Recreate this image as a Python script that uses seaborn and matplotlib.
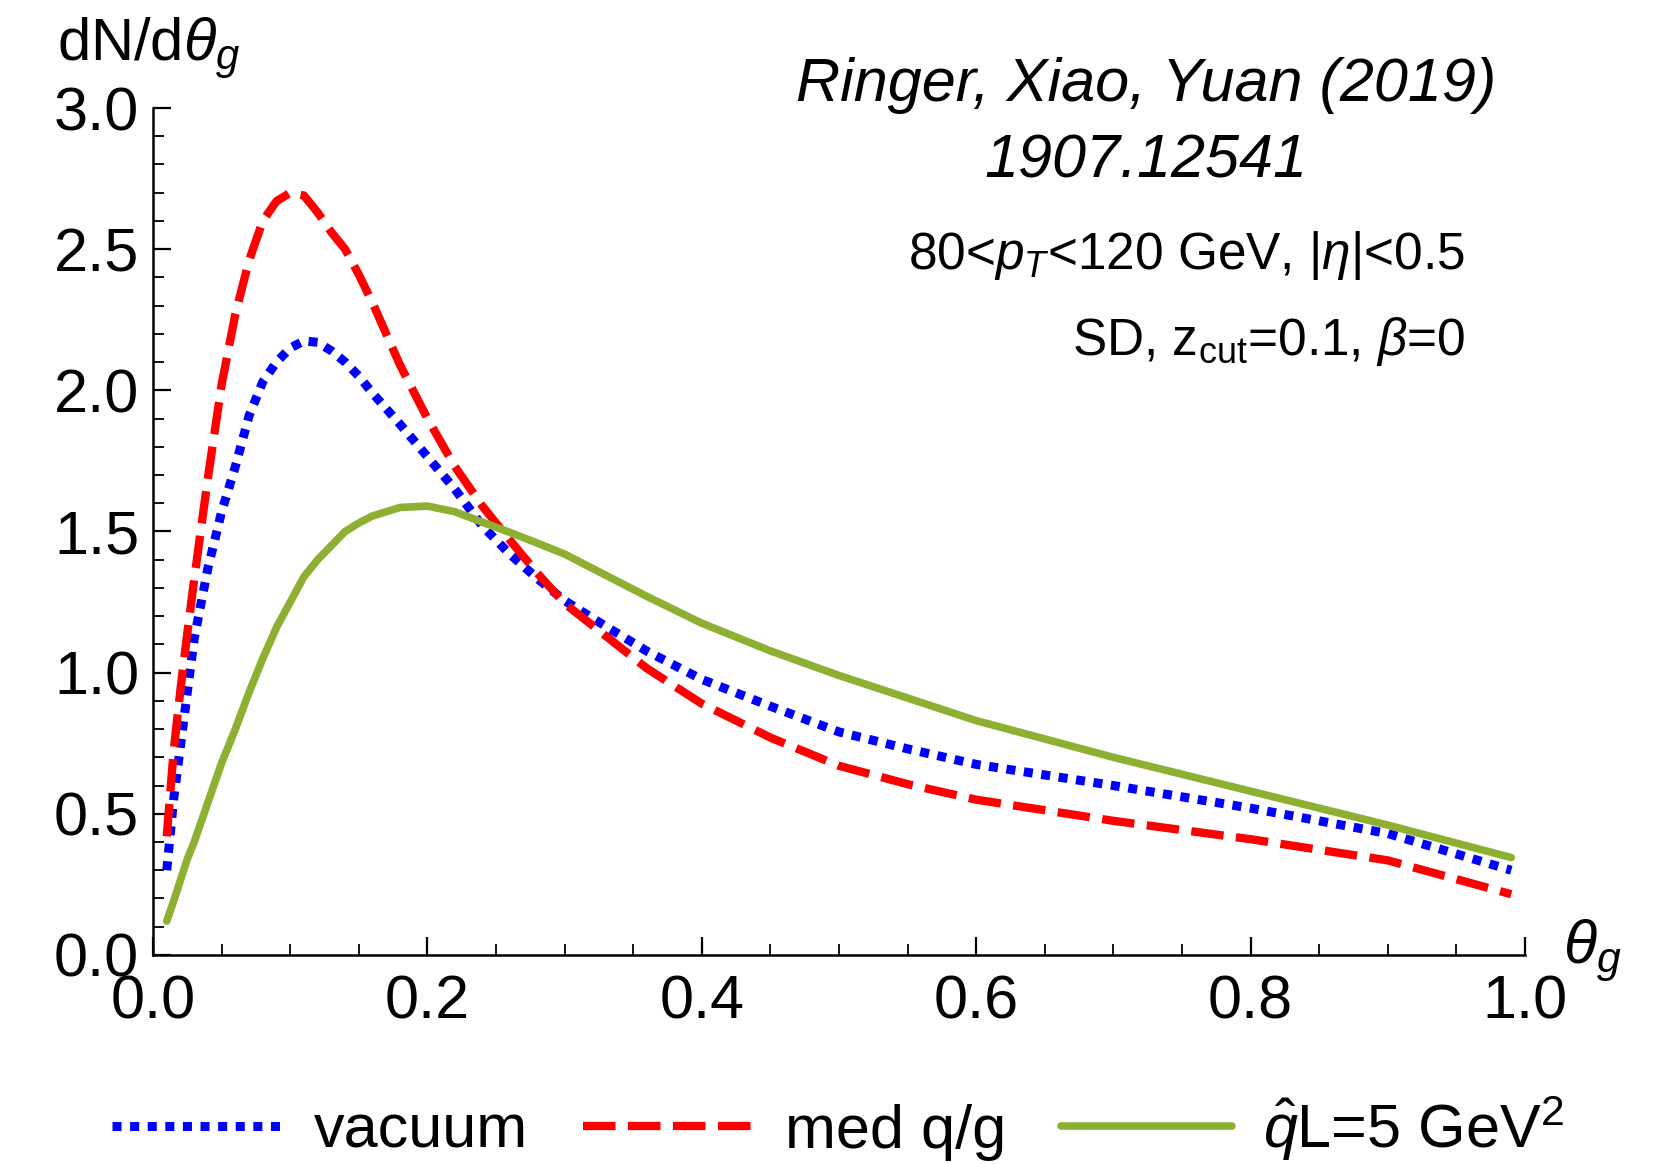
import numpy as np
import pandas as pd
import matplotlib
matplotlib.use("Agg")
import matplotlib.pyplot as plt
import seaborn as sns
from matplotlib.lines import Line2D

# ---- data ----
theta = [0.01, 0.015, 0.02, 0.025, 0.03, 0.04, 0.05, 0.06, 0.07, 0.08, 0.09, 0.10,
         0.11, 0.12, 0.13, 0.14, 0.15, 0.16, 0.18, 0.20, 0.22, 0.24, 0.26, 0.28,
         0.30, 0.33, 0.36, 0.40, 0.45, 0.50, 0.55, 0.60, 0.70, 0.80, 0.90, 0.99]
vacuum = [0.30, 0.55, 0.74, 0.93, 1.12, 1.37, 1.57, 1.73, 1.91, 2.03, 2.10, 2.15,
          2.175, 2.17, 2.14, 2.10, 2.05, 1.99, 1.88, 1.765, 1.65, 1.52, 1.42, 1.334,
          1.255, 1.164, 1.076, 0.976, 0.881, 0.79, 0.73, 0.675, 0.60, 0.52, 0.43, 0.30]
med_qg = [0.42, 0.72, 0.94, 1.14, 1.33, 1.69, 2.02, 2.27, 2.46, 2.60, 2.67, 2.70,
          2.69, 2.63, 2.56, 2.50, 2.41, 2.31, 2.09, 1.90, 1.73, 1.59, 1.47, 1.353,
          1.245, 1.13, 1.015, 0.89, 0.77, 0.67, 0.605, 0.55, 0.475, 0.41, 0.335, 0.215]
qhatL5 = [0.12, 0.19, 0.265, 0.34, 0.40, 0.54, 0.68, 0.80, 0.93, 1.05, 1.16, 1.25,
          1.34, 1.40, 1.45, 1.50, 1.53, 1.555, 1.585, 1.59, 1.57, 1.533, 1.497, 1.459,
          1.42, 1.345, 1.27, 1.175, 1.077, 0.99, 0.91, 0.83, 0.70, 0.58, 0.46, 0.345]
series_labels = ["vacuum", "med q/g", r"$\hat{q}$L=5 GeV$^2$"]
x_ticks = [0.0, 0.2, 0.4, 0.6, 0.8, 1.0]
y_ticks = [0.0, 0.5, 1.0, 1.5, 2.0, 2.5, 3.0]

sns.set_style("ticks")
plt.rcParams["font.family"] = ["Liberation Sans", "DejaVu Sans"]
plt.rcParams["mathtext.fontset"] = "custom"
plt.rcParams["mathtext.rm"] = "Liberation Sans"
plt.rcParams["mathtext.it"] = "Liberation Sans:italic"
plt.rcParams["mathtext.bf"] = "Liberation Sans:bold"
for k in ["text.color", "axes.labelcolor", "xtick.color", "ytick.color", "axes.edgecolor"]:
    plt.rcParams[k] = "black"

fig = plt.figure(figsize=(16.76, 11.64), dpi=100)
ax = fig.add_axes([0.0913, 0.1796, 0.8186, 0.7276])

df = pd.DataFrame({
    "theta": theta * 3,
    "val": vacuum + med_qg + qhatL5,
    "series": [series_labels[0]] * len(theta) + [series_labels[1]] * len(theta)
              + [series_labels[2]] * len(theta),
})
colors = ["#0000ff", "#ff0000", "#8db033"]
widths = [6.5, 6.0, 5.5]
dashes = [(1.0, 0.95), (3.9, 1.5), ""]
for i, lab in enumerate(series_labels):
    sub = df[df["series"] == lab]
    sns.lineplot(data=sub, x="theta", y="val", ax=ax, color=colors[i],
                 linewidth=widths[i], legend=False, sort=False, estimator=None)
    ln = ax.lines[-1]
    ln.set_solid_joinstyle("round")
    if dashes[i]:
        ln.set_dashes(dashes[i])
        ln.set_dash_capstyle("butt")

ax.set_xlim(0, 1.0)
ax.set_ylim(0, 3.0)
ax.set_xticks(x_ticks)
ax.set_xticklabels([f"{v:.1f}" for v in x_ticks])
ax.set_yticks(y_ticks)
ax.set_yticklabels([f"{v:.1f}" for v in y_ticks])
ax.set_xticks(np.arange(0, 1.0001, 0.05), minor=True)
ax.set_yticks(np.arange(0, 3.0001, 0.1), minor=True)
ax.tick_params(which="major", direction="in", length=13, width=1.6, labelsize=44, pad=8)
ax.tick_params(which="minor", direction="in", length=8, width=1.3)
ax.tick_params(axis="x", pad=14)
ax.tick_params(axis="y", pad=10)
for s in ["top", "right"]:
    ax.spines[s].set_visible(False)
for s in ["left", "bottom"]:
    ax.spines[s].set_linewidth(1.8)
ax.set_xlabel("")
ax.set_ylabel("")

fig.text(57 / 1676, 1 - 48 / 1164, r"dN/d$\theta_g$", fontsize=43, ha="left", va="center")
fig.text(1563 / 1676, 1 - 951 / 1164, r"$\theta_g$", fontsize=44, ha="left", va="center")

fig.text(1146 / 1676, 1 - 85 / 1164, "Ringer, Xiao, Yuan (2019)", fontsize=44,
         style="italic", ha="center", va="center")
fig.text(1146 / 1676, 1 - 162 / 1164, "1907.12541", fontsize=44,
         style="italic", ha="center", va="center")
fig.text(1465 / 1676, 1 - 255 / 1164, r"80<$p_T$<120 GeV, |$\eta$|<0.5", fontsize=37,
         ha="right", va="center")
fig.text(1465 / 1676, 1 - 341 / 1164, r"SD, z$_{\mathrm{cut}}$=0.1, $\beta$=0", fontsize=37,
         ha="right", va="center")

handles = [Line2D([0], [0], color=colors[0], lw=widths[0], dashes=dashes[0], dash_capstyle="butt"),
           Line2D([0], [0], color=colors[1], lw=widths[1], dashes=dashes[1], dash_capstyle="butt"),
           Line2D([0], [0], color=colors[2], lw=widths[2])]
fig.legend(handles, series_labels, loc="center", bbox_to_anchor=(0.5, 1 - 1128 / 1164),
           ncol=3, frameon=False, fontsize=44, handlelength=2.8, columnspacing=0.9,
           handletextpad=0.5)

fig.savefig("out.png", dpi=100)
